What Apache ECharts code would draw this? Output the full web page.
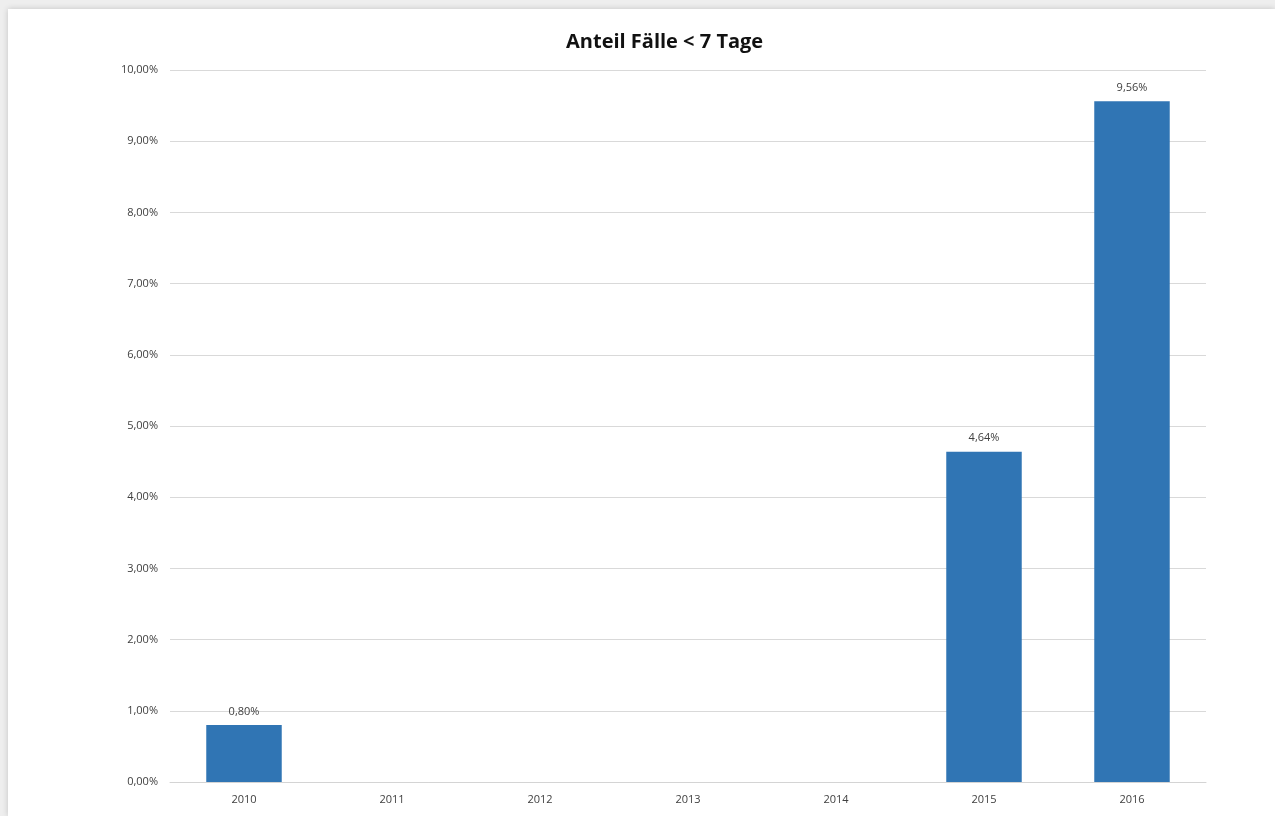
<!doctype html>
<html lang="de">

<head>
	<meta charset="UTF-8">
	<title>Anteil Fälle &lt; 7 Tage</title>
	<script src="https://cdnjs.cloudflare.com/ajax/libs/echarts/6.0.0/echarts.min.js"></script>
	<style>
		html, body { margin: 0; padding: 0; background: #eeeeee; overflow: hidden; }
		#main {
			position: absolute; left: 8px; top: 9px; width: 1267px; height: 807px;
			background: #ffffff; box-shadow: 0 0 6px rgba(0, 0, 0, 0.18);
		}
	</style>
</head>

<body>
	<div id="main"></div>
	<script type="text/javascript">
		// Jahre und Anteil (in %)
		var years = ['2010', '2011', '2012', '2013', '2014', '2015', '2016'];
		var anteil = [0.80, 0, 0, 0, 0, 4.64, 9.56];
		var titel = 'Anteil Fälle < 7 Tage';

		function fmt(v) {
			return v.toFixed(2).replace('.', ',') + '%';
		}

		var myChart = echarts.init(document.getElementById('main'));

		option = {
			animation: false,
			title: {
				text: titel,
				left: 553,
				top: 18,
				textStyle: { fontFamily: 'Open Sans', fontSize: 20, fontWeight: 'bold', color: '#111' }
			},
			grid: { left: 162, right: 69, top: 61, bottom: 34 },
			xAxis: {
				type: 'category',
				data: years,
				axisLine: { lineStyle: { color: '#d4d4d4', width: 1 } },
				axisTick: { show: false },
				axisLabel: { color: '#404040', fontFamily: 'Open Sans', fontSize: 11, margin: 12 }
			},
			yAxis: {
				type: 'value',
				min: 0,
				max: 10,
				interval: 1,
				axisLine: { show: false },
				axisTick: { show: false },
				splitLine: { lineStyle: { color: '#d9d9d9', width: 1 } },
				axisLabel: { color: '#404040', fontFamily: 'Open Sans', fontSize: 11, margin: 12, formatter: fmt }
			},
			series: [{
				type: 'bar',
				data: anteil,
				barCategoryGap: '49%',
				itemStyle: { color: '#3075b4' },
				label: {
					show: true,
					position: 'top',
					distance: 8,
					color: '#404040',
					fontFamily: 'Open Sans',
					fontSize: 11,
					formatter: function (p) { return p.value > 0 ? fmt(p.value) : ''; }
				}
			}]
		};
		myChart.setOption(option);
	</script>
</body>

</html>
